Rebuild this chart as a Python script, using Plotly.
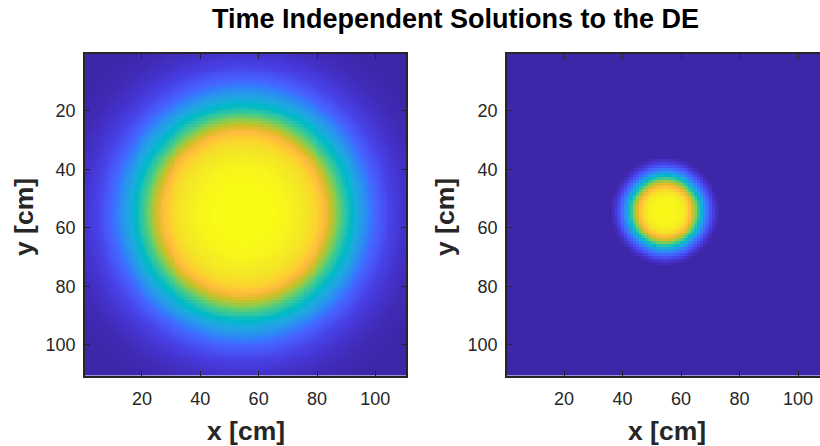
import numpy as np
import plotly.graph_objects as go

# ---- data ----
grid_n = 110                      # grid cells along x and y (cm)
x_ticks = [20, 40, 60, 80, 100]
y_ticks = [20, 40, 60, 80, 100]

# left solution: radial profile (radius in cm -> normalised value), centre
left_center = (54.8, 54.8)
left_r = [0, 10, 15, 22, 25, 28, 32, 36, 41, 45, 50, 55, 60, 68, 80]
left_v = [1.0, 0.997, 0.985, 0.94, 0.9, 0.83, 0.67, 0.5, 0.34, 0.2, 0.1, 0.05, 0.02, 0.0, 0.0]

# right solution: radial profile, centre
right_center = (54.5, 54.3)
right_r = [0, 5, 7, 9, 10.8, 12, 13.7, 15.4, 17, 18.5, 80]
right_v = [1.0, 0.98, 0.94, 0.83, 0.66, 0.5, 0.3, 0.15, 0.05, 0.0, 0.0]

title_text = "Time Independent Solutions to the DE"
x_label = "x [cm]"
y_label = "y [cm]"

# MATLAB parula (64 entries)
parula = [
    (0.2422, 0.1504, 0.6603), (0.2504, 0.1650, 0.7076), (0.2578, 0.1818, 0.7511), (0.2647, 0.1978, 0.7952),
    (0.2706, 0.2147, 0.8364), (0.2751, 0.2342, 0.8710), (0.2783, 0.2559, 0.8991), (0.2803, 0.2782, 0.9221),
    (0.2813, 0.3006, 0.9414), (0.2810, 0.3228, 0.9579), (0.2795, 0.3447, 0.9717), (0.2760, 0.3667, 0.9829),
    (0.2699, 0.3892, 0.9906), (0.2602, 0.4123, 0.9952), (0.2440, 0.4358, 0.9988), (0.2206, 0.4603, 0.9973),
    (0.1963, 0.4847, 0.9892), (0.1834, 0.5074, 0.9798), (0.1786, 0.5289, 0.9682), (0.1764, 0.5499, 0.9520),
    (0.1687, 0.5703, 0.9359), (0.1540, 0.5902, 0.9218), (0.1460, 0.6091, 0.9079), (0.1380, 0.6276, 0.8973),
    (0.1248, 0.6459, 0.8883), (0.1113, 0.6635, 0.8763), (0.0952, 0.6798, 0.8598), (0.0689, 0.6948, 0.8394),
    (0.0297, 0.7082, 0.8163), (0.0036, 0.7203, 0.7917), (0.0067, 0.7312, 0.7660), (0.0433, 0.7411, 0.7394),
    (0.0964, 0.7500, 0.7120), (0.1408, 0.7584, 0.6842), (0.1717, 0.7670, 0.6554), (0.1938, 0.7758, 0.6251),
    (0.2161, 0.7843, 0.5923), (0.2470, 0.7918, 0.5567), (0.2906, 0.7973, 0.5188), (0.3406, 0.8008, 0.4789),
    (0.3909, 0.8029, 0.4354), (0.4456, 0.8024, 0.3909), (0.5044, 0.7993, 0.3480), (0.5616, 0.7942, 0.3045),
    (0.6174, 0.7876, 0.2612), (0.6720, 0.7793, 0.2227), (0.7242, 0.7698, 0.1910), (0.7738, 0.7598, 0.1646),
    (0.8203, 0.7498, 0.1535), (0.8634, 0.7406, 0.1596), (0.9035, 0.7330, 0.1774), (0.9393, 0.7288, 0.2100),
    (0.9728, 0.7298, 0.2394), (0.9956, 0.7434, 0.2371), (0.9970, 0.7659, 0.2199), (0.9952, 0.7893, 0.2028),
    (0.9892, 0.8136, 0.1885), (0.9786, 0.8386, 0.1766), (0.9676, 0.8639, 0.1643), (0.9610, 0.8890, 0.1537),
    (0.9597, 0.9135, 0.1423), (0.9628, 0.9373, 0.1265), (0.9691, 0.9606, 0.1064), (0.9769, 0.9839, 0.0805),
]
colorscale = [[i / (len(parula) - 1), "rgb(%d,%d,%d)" % tuple(round(c * 255) for c in col)]
              for i, col in enumerate(parula)]

# ---- build fields ----
coords = np.arange(1, grid_n + 1)
X, Y = np.meshgrid(coords, coords)


def field(center, r_pts, v_pts):
    r = np.hypot(X - center[0], Y - center[1])
    return np.interp(r, r_pts, v_pts)


z_left = field(left_center, left_r, left_v)
z_right = field(right_center, right_r, right_v)

W, H = 820, 446
left_px = (85, 406)
right_px = (507, 820)
top_px, bot_px = 54, 375.5

fig = go.Figure()
fig.add_trace(go.Heatmap(x=coords, y=coords, z=z_left, colorscale=colorscale, zmin=0, zmax=1,
                         showscale=False, xaxis="x", yaxis="y"))
fig.add_trace(go.Heatmap(x=coords, y=coords, z=z_right, colorscale=colorscale, zmin=0, zmax=1,
                         showscale=False, xaxis="x2", yaxis="y2"))

tick_font = dict(family="Liberation Sans, Arial, sans-serif", size=18, color="#262626")
axis_common = dict(ticks="inside", ticklen=5, tickwidth=1, tickcolor="#262626",
                   showline=True, linecolor="#262626", linewidth=1.6,
                   showgrid=False, zeroline=False, tickfont=tick_font)

ydom = [1 - bot_px / H, 1 - top_px / H]
fig.update_layout(
    width=W, height=H,
    margin=dict(l=0, r=0, t=0, b=0),
    paper_bgcolor="white", plot_bgcolor="white",
    showlegend=False,
    xaxis=dict(domain=[left_px[0] / W, left_px[1] / W], range=[0.5, 110.5],
               tickvals=x_ticks, mirror="ticks", anchor="y", ticklabelstandoff=6, **axis_common),
    yaxis=dict(domain=ydom, range=[110.5, 0.5], tickvals=y_ticks, mirror="ticks", anchor="x",
               ticklabelstandoff=4, **axis_common),
    xaxis2=dict(domain=[right_px[0] / W, 1.0], range=[0.5, 107.5],
                tickvals=x_ticks, mirror="ticks", anchor="y2", ticklabelstandoff=6, **axis_common),
    yaxis2=dict(domain=ydom, range=[110.5, 0.5], tickvals=y_ticks, mirror=False, anchor="x2",
                ticklabelstandoff=4, **axis_common),
)

title_font = dict(family="Liberation Sans, Arial, sans-serif", size=27, color="#000000")
label_font = dict(family="Liberation Sans, Arial, sans-serif", size=26.5, color="#262626")

ann = [
    dict(text="<b>%s</b>" % title_text, x=455.5 / W, y=1 - 19 / H, font=title_font),
    dict(text="<b>%s</b>" % x_label, x=245.5 / W, y=1 - 431 / H, font=label_font),
    dict(text="<b>%s</b>" % x_label, x=667 / W, y=1 - 431 / H, font=label_font),
    dict(text="<b>%s</b>" % y_label, x=24 / W, y=1 - 217 / H, font=label_font, textangle=-90),
    dict(text="<b>%s</b>" % y_label, x=445 / W, y=1 - 217 / H, font=label_font, textangle=-90),
]
for a in ann:
    fig.add_annotation(xref="paper", yref="paper", xanchor="center", yanchor="middle",
                       showarrow=False, **a)

fig.write_html("out.html", config={"displayModeBar": False},
               post_script="document.body.style.margin='0';document.body.style.overflow='hidden';")
